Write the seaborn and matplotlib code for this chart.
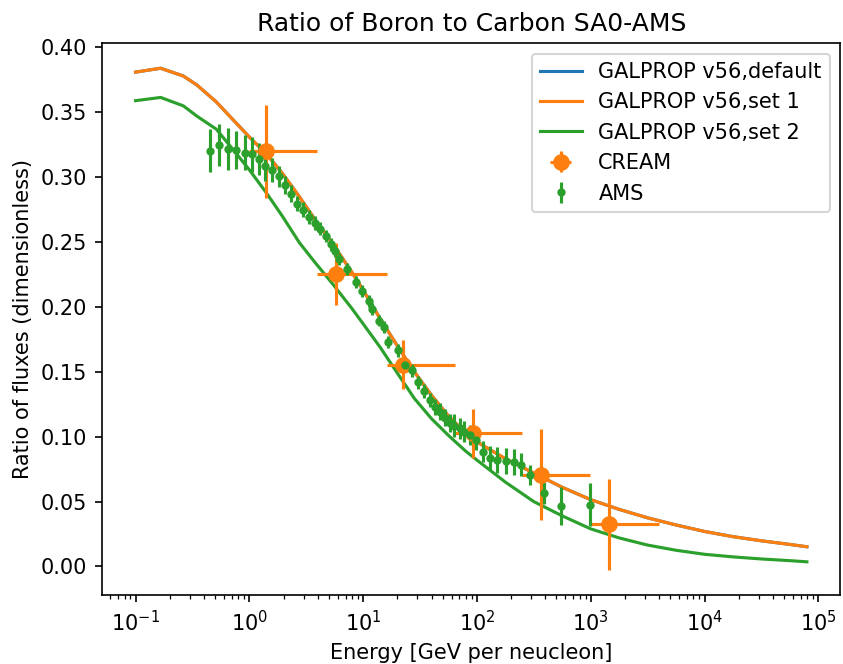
"""B/C ratio: GALPROP model curves vs CREAM and AMS data"""
import numpy as np
import pandas as pd
import matplotlib
matplotlib.use('Agg')
import matplotlib.pyplot as plt
import seaborn as sns

# GALPROP model curves (energy in GeV/n)
model_energy = [0.1, 0.166, 0.263, 0.347, 0.513, 0.724, 1.0, 1.41, 1.95, 2.75, 3.80,
                5.37, 7.94, 10.0, 14.1, 20.0, 28.2, 39.8, 56.2, 79.4, 100.0, 178.0,
                316.0, 562.0, 1000.0, 1780.0, 3160.0, 5620.0, 10000.0, 17800.0,
                31600.0, 56200.0, 79400.0]
set1_ratio = [0.381, 0.384, 0.378, 0.371, 0.358, 0.344, 0.331, 0.318, 0.303, 0.285,
              0.267, 0.249, 0.227, 0.213, 0.191, 0.170, 0.150, 0.132, 0.116, 0.103,
              0.096, 0.083, 0.072, 0.061, 0.0515, 0.044, 0.0375, 0.032, 0.027, 0.023,
              0.0198, 0.0170, 0.0152]
set2_ratio = [0.359, 0.3615, 0.355, 0.347, 0.337, 0.321, 0.3057, 0.288, 0.270, 0.2496,
              0.234, 0.218, 0.199, 0.187, 0.169, 0.149, 0.1295, 0.114, 0.101, 0.089,
              0.082, 0.065, 0.050, 0.039, 0.029, 0.022, 0.0165, 0.0125, 0.0094,
              0.0074, 0.0058, 0.0045, 0.0036]
default_ratio = set1_ratio  # default run lies under set 1

# CREAM
cream_energy = [1.41, 5.73, 22.6, 92.0, 368.0, 1450.0]
cream_lo = [1.0, 3.96, 16.2, 64.0, 251.0, 990.0]
cream_hi = [3.96, 16.2, 64.0, 251.0, 990.0, 4000.0]
cream_ratio = [0.320, 0.2253, 0.1556, 0.1027, 0.0707, 0.0324]
cream_err = [0.036, 0.024, 0.019, 0.019, 0.035, 0.035]

# AMS
ams_energy = [0.451, 0.54, 0.65, 0.77, 0.91, 1.05, 1.21, 1.38, 1.59, 1.81, 2.06, 2.32,
              2.62, 2.97, 3.36, 3.76, 4.19, 4.69, 5.18, 5.7, 6.12, 7.24, 8.57, 9.77,
              11.2, 12.0, 13.7, 15.1, 16.7, 20.2, 23.3, 26.7, 30.5, 34.0, 38.6, 42.7,
              47.1, 52.1, 57.7, 63.1, 70.5, 77.6, 86.1, 98.2, 112.0, 129.0, 151.0,
              180.0, 210.0, 245.0, 295.0, 389.0, 550.0, 977.0]
ams_ratio = [0.3206, 0.3249, 0.3216, 0.3211, 0.319, 0.3178, 0.314, 0.3083, 0.3057,
             0.3007, 0.2943, 0.2874, 0.2797, 0.2751, 0.2695, 0.2649, 0.2603, 0.2547,
             0.2483, 0.2430, 0.2368, 0.2291, 0.219, 0.2125, 0.2048, 0.1985, 0.1895,
             0.1844, 0.1729, 0.1665, 0.1556, 0.1512, 0.142, 0.135, 0.1282, 0.1231,
             0.1193, 0.1147, 0.1103, 0.1086, 0.1065, 0.104, 0.1014, 0.0975, 0.0886,
             0.0835, 0.0822, 0.0815, 0.0805, 0.0784, 0.0707, 0.0567, 0.0465, 0.0477]
ams_err = [0.0166, 0.016, 0.016, 0.0147, 0.0134, 0.0134, 0.012, 0.011, 0.009, 0.008,
           0.007, 0.0065, 0.006, 0.006, 0.0055, 0.0055, 0.005, 0.005, 0.005, 0.0045,
           0.0045, 0.0045, 0.0045, 0.0045, 0.0045, 0.0045, 0.0045, 0.0045, 0.0045,
           0.005, 0.005, 0.005, 0.005, 0.0055, 0.0055, 0.006, 0.0064, 0.0065, 0.007,
           0.009, 0.008, 0.008, 0.008, 0.008, 0.0083, 0.009, 0.01, 0.01, 0.01, 0.009,
           0.0077, 0.0083, 0.0147, 0.0166]

models = pd.DataFrame({'energy': model_energy, 'default': default_ratio,
                       'set1': set1_ratio, 'set2': set2_ratio})

fig = plt.figure(figsize=(843 / 150, 664 / 150), dpi=150)
ax = fig.add_axes([0.121, 0.104, 0.876, 0.831])

sns.lineplot(data=models, x='energy', y='default', ax=ax, color='C0',
             label='GALPROP v56,default')
sns.lineplot(data=models, x='energy', y='set1', ax=ax, color='C1',
             label='GALPROP v56,set 1')
sns.lineplot(data=models, x='energy', y='set2', ax=ax, color='C2',
             label='GALPROP v56,set 2')

cream_x = np.array(cream_energy)
cream_xerr = [cream_x - np.array(cream_lo), np.array(cream_hi) - cream_x]
ax.errorbar(cream_energy, cream_ratio, xerr=cream_xerr, yerr=cream_err,
            fmt='o', color='C1', ms=7, label='CREAM')
ax.errorbar(ams_energy, ams_ratio, yerr=ams_err, fmt='.', color='C2', label='AMS')

ax.set_xscale('log')
ax.set_title('Ratio of Boron to Carbon SA0-AMS', fontsize=12)
ax.set_xlabel('Energy [GeV per neucleon]')
ax.set_ylabel('Ratio of fluxes (dimensionless)')
ax.legend(loc='upper right')

fig.savefig('out.png', dpi=150)
